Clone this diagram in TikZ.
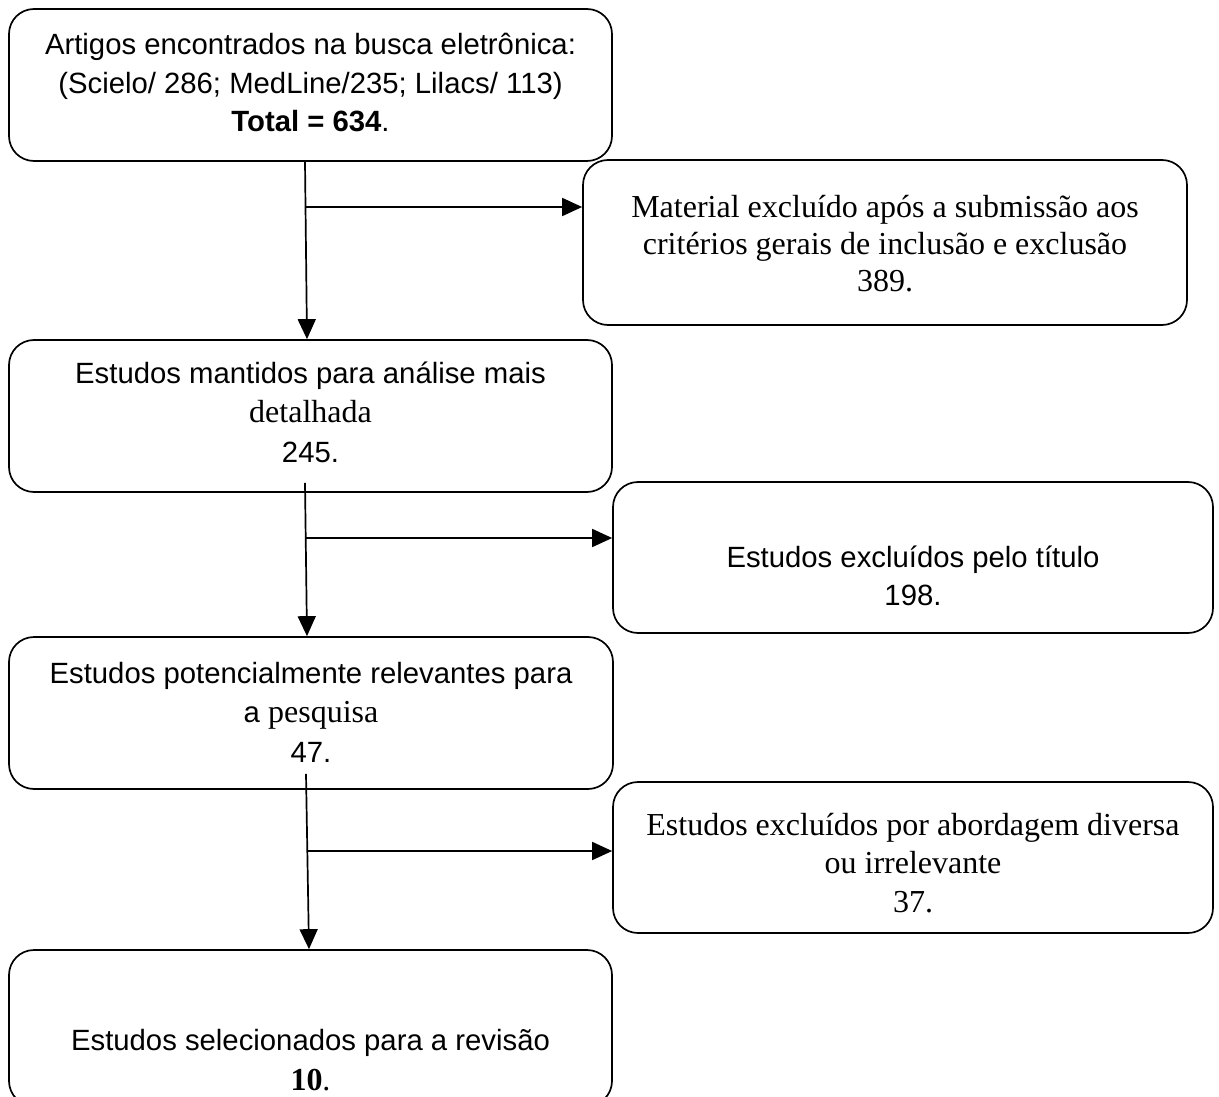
\documentclass[tikz,border=0pt]{standalone}
\usepackage{fontspec}
\setmainfont{Liberation Sans}
\newfontfamily\tnr{Liberation Serif}
\usetikzlibrary{arrows.meta,calc}
\begin{document}
\begin{tikzpicture}[x=1pt,y=-1pt,
  box/.style={draw,line width=1.7pt,rounded corners=25pt,inner sep=0pt},
  lbl/.style={anchor=base,inner sep=0pt},
  arial/.style={font=\fontsize{29.3}{38.5}\selectfont},
  times/.style={font=\tnr\fontsize{32}{37}\selectfont},
  arr/.style={line width=1.7pt,-{Triangle[length=20pt,width=18pt]}}]
\useasboundingbox (0,0) rectangle (1219,1097);
% boxes
\node[box,minimum width=603pt,minimum height=152pt] (b1) at (310.5,85) {};
\node[box,minimum width=604pt,minimum height=165pt] (m1) at (885,242.5) {};
\node[box,minimum width=603pt,minimum height=152pt] (b2) at (310.5,416) {};
\node[box,minimum width=600pt,minimum height=151pt] (e1) at (913,557.5) {};
\node[box,minimum width=604pt,minimum height=152pt] (b3) at (311,713) {};
\node[box,minimum width=600pt,minimum height=151pt] (e2) at (913,857.5) {};
\node[box,minimum width=603pt,minimum height=156pt] (b4) at (310.5,1028) {};
% texts
\node[lbl,arial] (t1) at (310.5,55) {\begin{tabular}[t]{@{}c@{}}Artigos encontrados na busca eletrônica:\\(Scielo/ 286; MedLine/235; Lilacs/ 113)\\\textbf{Total = 634}.\end{tabular}};
\node[lbl,times] (tm) at (885,218) {\begin{tabular}[t]{@{}c@{}}Material excluído após a submissão aos\\critérios gerais de inclusão e exclusão\\389.\end{tabular}};
\node[lbl,font=\fontsize{29.3}{39.5}\selectfont] (t2) at (310.5,383) {\begin{tabular}[t]{@{}c@{}}Estudos mantidos para análise mais\\{\tnr\fontsize{32}{39.5}\selectfont detalhada}\\245.\end{tabular}};
\node[lbl,arial] (te1) at (913,567) {\begin{tabular}[t]{@{}c@{}}Estudos excluídos pelo título\\198.\end{tabular}};
\node[lbl,font=\fontsize{29.3}{39.5}\selectfont] (t3) at (311,683) {\begin{tabular}[t]{@{}c@{}}Estudos potencialmente relevantes para\\a {\tnr\fontsize{32}{39.5}\selectfont pesquisa}\\47.\end{tabular}};
\node[lbl,font=\tnr\fontsize{32}{38.5}\selectfont] (te2) at (913,835) {\begin{tabular}[t]{@{}c@{}}Estudos excluídos por abordagem diversa\\ou irrelevante\\37.\end{tabular}};
\node[lbl,font=\fontsize{29.3}{40}\selectfont] (t4) at (310.5,1050) {\begin{tabular}[t]{@{}c@{}}Estudos selecionados para a revisão\\{\tnr\fontsize{32}{40}\selectfont\textbf{10}.}\end{tabular}};
% connectors
\coordinate (j1) at (306,207);
\coordinate (j2) at (306,538);
\coordinate (j3) at (308,851);
\draw[arr] ($(b1.south)+(-5.5,0)$) -- ($(b2.north)+(-3.5,0)$);
\draw[arr] (j1) -- (j1 -| m1.west);
\draw[arr] ($(b2.south)+(-5.5,-10)$) -- ($(b2.south |- b3.north)+(-3.5,0)$);
\draw[arr] (j2) -- (j2 -| e1.west);
\draw[arr] ($(b3.south)+(-5,-16)$) -- ($(b3.south |- b4.north)+(-2,0)$);
\draw[arr] (j3) -- (j3 -| e2.west);
\end{tikzpicture}
\end{document}
